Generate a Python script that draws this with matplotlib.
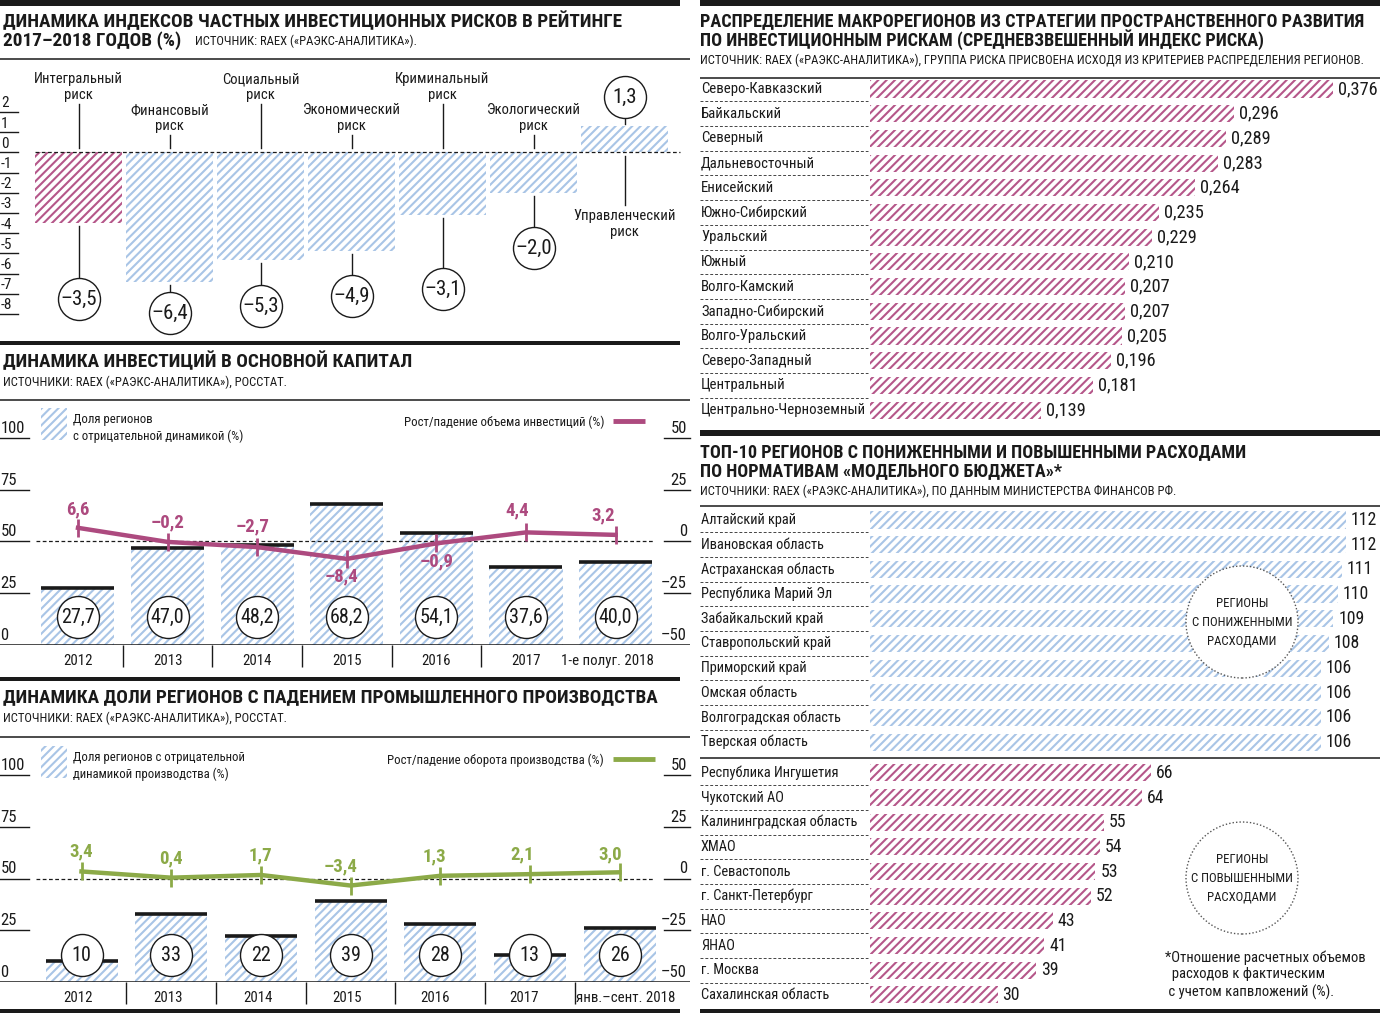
import matplotlib
matplotlib.use('Agg')
import matplotlib.pyplot as plt
from matplotlib.patches import Rectangle

FAM = ['Roboto Condensed', 'PT Sans Narrow', 'IBM Plex Sans Condensed', 'DejaVu Sans']
plt.rcParams['font.family'] = FAM
plt.rcParams['hatch.linewidth'] = 1.5

# ---------------- DATA ----------------
risk_cats = ['Интегральный\nриск', 'Финансовый\nриск', 'Социальный\nриск',
             'Экономический\nриск', 'Криминальный\nриск', 'Экологический\nриск',
             'Управленческий\nриск']
risk_vals = [-3.5, -6.4, -5.3, -4.9, -3.1, -2.0, 1.3]
risk_ticks = [2, 1, 0, -1, -2, -3, -4, -5, -6, -7, -8]

inv_years = ['2012', '2013', '2014', '2015', '2016', '2017', '1-е полуг. 2018']
inv_share = [27.7, 47.0, 48.2, 68.2, 54.1, 37.6, 40.0]
inv_growth = [6.6, -0.2, -2.7, -8.4, -0.9, 4.4, 3.2]

ind_years = ['2012', '2013', '2014', '2015', '2016', '2017', 'янв.–сент. 2018']
ind_share = [10, 33, 22, 39, 28, 13, 26]
ind_growth = [3.4, 0.4, 1.7, -3.4, 1.3, 2.1, 3.0]

left_ticks = [0, 25, 50, 75, 100]
right_ticks = [-50, -25, 0, 25, 50]

macro_names = ['Северо-Кавказский', 'Байкальский', 'Северный', 'Дальневосточный',
               'Енисейский', 'Южно-Сибирский', 'Уральский', 'Южный', 'Волго-Камский',
               'Западно-Сибирский', 'Волго-Уральский', 'Северо-Западный', 'Центральный',
               'Центрально-Черноземный']
macro_vals = [0.376, 0.296, 0.289, 0.283, 0.264, 0.235, 0.229, 0.210, 0.207,
              0.207, 0.205, 0.196, 0.181, 0.139]

low_names = ['Алтайский край', 'Ивановская область', 'Астраханская область',
             'Республика Марий Эл', 'Забайкальский край', 'Ставропольский край',
             'Приморский край', 'Омская область', 'Волгоградская область', 'Тверская область']
low_vals = [112, 112, 111, 110, 109, 108, 106, 106, 106, 106]
high_names = ['Республика Ингушетия', 'Чукотский АО', 'Калининградская область', 'ХМАО',
              'г. Севастополь', 'г. Санкт-Петербург', 'НАО', 'ЯНАО', 'г. Москва',
              'Сахалинская область']
high_vals = [66, 64, 55, 54, 53, 52, 43, 41, 39, 30]

# ---------------- STYLE ----------------
PINK = '#ad4a7f'
PINK_H = '#b5578a'
BLUE_H = '#a9c5e6'
GREEN = '#8caa48'
INK = '#1a1a1a'
HATCH = '////'

W, H = 1380, 1013
fig = plt.figure(figsize=(W / 100, H / 100), dpi=100)
fig.patch.set_facecolor('white')


def axpx(x0, y0, x1, y1, zorder=1):
    ax = fig.add_axes([x0 / W, 1 - y1 / H, (x1 - x0) / W, (y1 - y0) / H], zorder=zorder)
    ax.set_facecolor('none')
    ax.axis('off')
    return ax


def fmt(v, nd=1):
    return f'{v:.{nd}f}'.replace('.', ',').replace('-', '–')


ov = axpx(0, 0, W, H, zorder=0)
ov.set_xlim(0, W)
ov.set_ylim(H, 0)

for (x0, y0, x1, y1) in [(0, 0, 680, 6), (700, 0, 1380, 6), (0, 341, 680, 345),
                         (0, 677, 680, 681), (0, 1009, 680, 1013),
                         (700, 430, 1380, 436), (700, 1009, 1380, 1013)]:
    ov.add_patch(Rectangle((x0, y0), x1 - x0, y1 - y0, color=INK, lw=0))
for (x0, x1, y) in [(0, 690, 59), (0, 690, 400), (0, 690, 737), (700, 1380, 78),
                    (700, 1380, 506), (700, 1380, 758)]:
    ov.plot([x0, x1], [y, y], color=INK, lw=1.1, solid_capstyle='butt')

TS_L = 13.9
TS_R = 13.1
SS = 9.1


def title(x, y, s, fs):
    return ov.text(x, y, s, fontsize=fs, fontweight='bold', color=INK, va='center', ha='left')


def source(x, y, s):
    return ov.text(x, y, s, fontsize=SS, color=INK, va='center', ha='left')


title(3, 21, 'ДИНАМИКА ИНДЕКСОВ ЧАСТНЫХ ИНВЕСТИЦИОННЫХ РИСКОВ В РЕЙТИНГЕ', TS_L)
t = title(3, 41, '2017–2018 ГОДОВ (%)', TS_L)
ov.annotate('ИСТОЧНИК: RAEX («РАЭКС-АНАЛИТИКА»).', xy=(1, 0.5), xycoords=t,
            xytext=(14, 0), textcoords='offset pixels', fontsize=SS, va='center', color=INK)
title(3, 361, 'ДИНАМИКА ИНВЕСТИЦИЙ В ОСНОВНОЙ КАПИТАЛ', TS_L)
source(3, 382, 'ИСТОЧНИКИ: RAEX («РАЭКС-АНАЛИТИКА»), РОССТАТ.')
title(3, 697, 'ДИНАМИКА ДОЛИ РЕГИОНОВ С ПАДЕНИЕМ ПРОМЫШЛЕННОГО ПРОИЗВОДСТВА', TS_L)
source(3, 718, 'ИСТОЧНИКИ: RAEX («РАЭКС-АНАЛИТИКА»), РОССТАТ.')
title(700, 21, 'РАСПРЕДЕЛЕНИЕ МАКРОРЕГИОНОВ ИЗ СТРАТЕГИИ ПРОСТРАНСТВЕННОГО РАЗВИТИЯ', TS_R)
title(700, 40, 'ПО ИНВЕСТИЦИОННЫМ РИСКАМ (СРЕДНЕВЗВЕШЕННЫЙ ИНДЕКС РИСКА)', TS_R)
source(700, 60, 'ИСТОЧНИК: RAEX («РАЭКС-АНАЛИТИКА»), ГРУППА РИСКА ПРИСВОЕНА ИСХОДЯ ИЗ КРИТЕРИЕВ РАСПРЕДЕЛЕНИЯ РЕГИОНОВ.')
title(700, 452, 'ТОП-10 РЕГИОНОВ С ПОНИЖЕННЫМИ И ПОВЫШЕННЫМИ РАСХОДАМИ', TS_R)
title(700, 471, 'ПО НОРМАТИВАМ «МОДЕЛЬНОГО БЮДЖЕТА»*', TS_R)
source(700, 491, 'ИСТОЧНИКИ: RAEX («РАЭКС-АНАЛИТИКА»), ПО ДАННЫМ МИНИСТЕРСТВА ФИНАНСОВ РФ.')

for (y0, txt, rtxt, col, x1) in [
        (408, 'Доля регионов\nс отрицательной динамикой (%)',
         'Рост/падение объема инвестиций (%)', PINK, 645),
        (746, 'Доля регионов с отрицательной\nдинамикой производства (%)',
         'Рост/падение оборота производства (%)', GREEN, 655)]:
    ov.add_patch(Rectangle((41, y0), 26, 32, facecolor='white', edgecolor=BLUE_H,
                           hatch=HATCH, lw=0))
    ov.text(73, y0 + 20, txt, fontsize=9.2, color=INK, va='center', ha='left', linespacing=1.3)
    ov.text(604, y0 + 14, rtxt, fontsize=9.2, color=INK, va='center', ha='right')
    ov.plot([613, x1], [y0 + 13, y0 + 13], color=col, lw=3.5, solid_capstyle='butt')

CIRC_S = (42 * 0.72) ** 2

# ---------------- PANEL 1 ----------------
P1_DX, P1_X0, P1_DY, P1_Y0 = 91.0, 78.5, 20.2, 152.5
ax1 = axpx(0, 60, 690, 335)
ax1.set_xlim(-P1_X0 / P1_DX, (690 - P1_X0) / P1_DX)
ax1.set_ylim(-(335 - P1_Y0) / P1_DY, (P1_Y0 - 60) / P1_DY)


def y1(p):
    return (P1_Y0 - p) / P1_DY


xs = list(range(len(risk_vals)))
ax1.bar(xs, risk_vals, width=87 / P1_DX, color='white',
        edgecolor=[PINK_H] + [BLUE_H] * 6, hatch=HATCH, lw=0, zorder=2)
ax1.axhline(0, xmin=35 / 690, xmax=680 / 690, color=INK, lw=0.9, ls=(0, (3, 2)), zorder=3)
for tv in risk_ticks:
    ax1.plot([0, 18 / 690], [tv, tv], transform=ax1.get_yaxis_transform(), color=INK,
             lw=1, clip_on=False)
    ax1.text(1 / 690, tv + 0.08, str(tv), transform=ax1.get_yaxis_transform(), fontsize=11,
             ha='left', va='bottom', color=INK)

cat_label_y = [87, 118, 87, 118, 87, 118, 224]
circ_y = [299, 313, 306, 296, 289, 248, 97]
for i, (name, v) in enumerate(zip(risk_cats, risk_vals)):
    ly = cat_label_y[i]
    ax1.text(i, y1(ly), name, ha='center', va='center', fontsize=10.5, color=INK,
             linespacing=1.15)
    if v < 0:
        ax1.plot([i, i], [y1(ly + 17), y1(148)], color=INK, lw=1)
        ax1.plot([i, i], [v - 3 / P1_DY, y1(circ_y[i] - 21)], color=INK, lw=1)
    else:
        ax1.plot([i, i], [y1(156), y1(ly - 19)], color=INK, lw=1)
        ax1.plot([i, i], [v + 2 / P1_DY, y1(circ_y[i] + 21)], color=INK, lw=1)
    ax1.scatter([i], [y1(circ_y[i])], s=CIRC_S, facecolor='white', edgecolor=INK, lw=1,
                zorder=5, clip_on=False)
    ax1.text(i, y1(circ_y[i]), fmt(v), ha='center', va='center', fontsize=15, color=INK,
             zorder=6)


# ---------------- PANELS 2 & 3 ----------------
def combo(y_top, y_base, x0c, dx, barw, share, growth, years, col, lab_off, circ_px,
          year_dx, n_sep):
    pxu = 2.07
    ax = axpx(0, y_top, 690, y_base)
    span = (y_base - y_top) / pxu
    ax.set_xlim(-x0c / dx, (690 - x0c) / dx)
    ax.set_ylim(0, span)
    axr = ax.twinx()
    axr.axis('off')
    axr.set_ylim(-50, span - 50)
    x = list(range(len(share)))
    w = barw / dx
    ax.bar(x, share, width=w, color='white', edgecolor=BLUE_H, hatch=HATCH, lw=0, zorder=2)
    ax.hlines(share, [i - w / 2 for i in x], [i + w / 2 for i in x], color=INK, lw=2.6,
              zorder=3)
    ax.axhline(0, color=INK, lw=1.1, zorder=3)
    axr.axhline(0, xmin=36 / 690, xmax=654 / 690, color=INK, lw=0.9, ls=(0, (3, 2)), zorder=1)
    for tv in left_ticks[1:]:
        ax.plot([0, 29 / 690], [tv, tv], transform=ax.get_yaxis_transform(), color=INK, lw=1)
    for tv in left_ticks:
        ax.text(0.5 / 690, tv + 1.0, str(tv), transform=ax.get_yaxis_transform(), fontsize=12,
                ha='left', va='bottom', color=INK)
    for tv in right_ticks[1:]:
        axr.plot([664 / 690, 1], [tv, tv], transform=axr.get_yaxis_transform(), color=INK,
                 lw=1, clip_on=False)
    for tv in right_ticks:
        axr.text(687 / 690, tv + 1.0, str(tv).replace('-', '–'),
                 transform=axr.get_yaxis_transform(), fontsize=12, ha='right', va='bottom',
                 color=INK)
    ax.vlines([i + 0.5 for i in x[:n_sep]], -22 / pxu, 0, color=INK, lw=1, clip_on=False)
    for i, yr in enumerate(years):
        ax.annotate(yr, (i, 0), xytext=(year_dx[i], -16), textcoords='offset pixels',
                    ha='center', va='center', fontsize=10.7, color=INK, annotation_clip=False)
    axr.plot(x, growth, color=col, lw=3.2, zorder=7, solid_joinstyle='round')
    axr.plot(x, growth, ls='none', marker='|', ms=13, mew=2, color=col, zorder=7)
    for i, g in enumerate(growth):
        dxo, dyo = lab_off[i]
        axr.annotate(fmt(g), (i, g), xytext=(dxo, -dyo), textcoords='offset pixels',
                     ha='center', va='center', fontsize=13.5, fontweight='bold', color=col,
                     zorder=8)
    cy = (y_base - circ_px) / pxu
    ax.scatter(x, [cy] * len(x), s=CIRC_S, facecolor='white', edgecolor=INK, lw=1, zorder=5)
    for i, s in enumerate(share):
        ax.text(i, cy, fmt(s) if isinstance(s, float) else str(s), ha='center', va='center',
                fontsize=14.5, color=INK, zorder=6)
    return ax, axr


inv_lab_off = [(0, -18), (0, -20), (-5, -21), (-5, 18), (0, 18), (-9, -22), (-12, -19)]
combo(400, 645, 78.0, 89.6, 73, inv_share, inv_growth, inv_years, PINK, inv_lab_off, 617,
      [0, 0, 0, 0, 0, 0, -8], 5)
ind_lab_off = [(0, -20), (0, -19), (0, -20), (-10, -19), (-6, -19), (-8, -20), (-9, -18)]
combo(737, 982, 81.5, 89.67, 72, ind_share, ind_growth, ind_years, GREEN, ind_lab_off, 955,
      [-3, -3, -3, -4, -5, -6, 6], 6)

# ---------------- PANEL 4 ----------------
R_DY = 24.7
ax4 = axpx(700, 78, 1380, 422)
PX4 = 1231.0
ax4.set_xlim(-170 / PX4, 510 / PX4)
ax4.set_ylim((422 - 89) / R_DY, -(89 - 78) / R_DY)
y4 = list(range(len(macro_vals)))
ax4.barh(y4, macro_vals, height=0.69, color='white', edgecolor=PINK_H, hatch=HATCH, lw=0)
for i, (n, v) in enumerate(zip(macro_names, macro_vals)):
    ax4.text(-169 / PX4, i, n, ha='left', va='center', fontsize=10.6, color=INK)
    ax4.annotate(fmt(v, 3), (v, i), xytext=(5, 0), textcoords='offset pixels', ha='left',
                 va='center', fontsize=13.2, color=INK)
ax4.hlines([i + 0.5 for i in y4[:-1]], -170 / PX4, -2 / PX4, color='#444444', lw=0.7,
           ls=(0, (3, 2)))

# ---------------- PANEL 5 ----------------
R5 = 24.67
GAP = 0.25
ax5 = axpx(700, 506, 1380, 1008)
PX5 = 4.25
ax5.set_xlim(-170 / PX5, 510 / PX5)
ax5.set_ylim((1008 - 520) / R5, -(520 - 506) / R5)
pos_low = list(range(len(low_vals)))
pos_high = [len(low_vals) + GAP + k for k in range(len(high_vals))]
ax5.barh(pos_low, low_vals, height=0.69, color='white', edgecolor=BLUE_H, hatch=HATCH, lw=0)
ax5.barh(pos_high, high_vals, height=0.69, color='white', edgecolor=PINK_H, hatch=HATCH, lw=0)
for names, vals, pos in [(low_names, low_vals, pos_low), (high_names, high_vals, pos_high)]:
    for n, v, p in zip(names, vals, pos):
        ax5.text(-169 / PX5, p, n, ha='left', va='center', fontsize=10.4, color=INK)
        ax5.annotate(str(v), (v, p), xytext=(5, 0), textcoords='offset pixels', ha='left',
                     va='center', fontsize=12.8, color=INK)
    ax5.hlines([p + 0.5 for p in pos[:-1]], -170 / PX5, -2 / PX5, color='#444444', lw=0.7,
               ls=(0, (3, 2)))

top = axpx(0, 0, W, H, zorder=10)
top.set_xlim(0, W)
top.set_ylim(H, 0)
for cy, txt in [(622, 'РЕГИОНЫ\nС ПОНИЖЕННЫМИ\nРАСХОДАМИ'),
                (878, 'РЕГИОНЫ\nС ПОВЫШЕННЫМИ\nРАСХОДАМИ')]:
    top.scatter([1242], [cy], s=(112 * 0.72) ** 2, facecolor='white', edgecolor='#555555',
                lw=1, linestyle=(0, (1, 1.5)))
    top.text(1242, cy, txt, ha='center', va='center', fontsize=9.2, color=INK,
             linespacing=1.6)
top.text(1165, 975, '*Отношение расчетных объемов\n  расходов к фактическим\n с учетом капвложений (%).',
         ha='left', va='center', fontsize=10.5, color=INK, linespacing=1.25)

fig.savefig('out.png', dpi=100, facecolor='white')
